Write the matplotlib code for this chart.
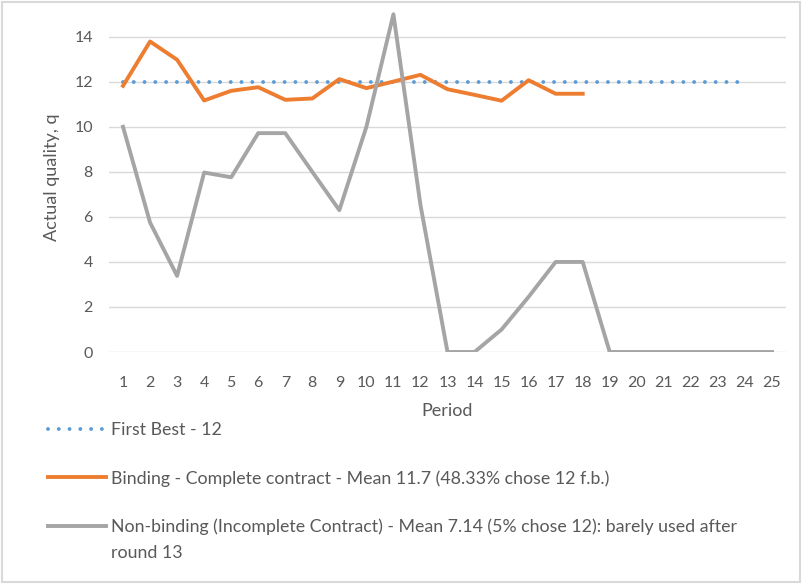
import matplotlib
matplotlib.use("Agg")
import matplotlib.pyplot as plt
import numpy as np

# data
periods = list(range(1, 26))
first_best = [12] * 24
binding = [11.82, 13.79, 12.98, 11.17, 11.6, 11.76, 11.2, 11.26, 12.12, 11.72,
           12.01, 12.31, 11.67, 11.42, 11.16, 12.07, 11.47, 11.47]
non_binding = [10.0, 5.75, 3.38, 7.97, 7.76, 9.72, 9.72, 8.0, 6.3, 10.0,
               15.0, 6.53, 0, 0, 1.0, 2.45, 4.0, 4.0, 0, 0, 0, 0, 0, 0, 0]

lbl_fb = "First Best - 12"
lbl_bind = "Binding - Complete contract - Mean 11.7 (48.33% chose 12 f.b.)"
lbl_non = "Non-binding (Incomplete Contract) - Mean 7.14 (5% chose 12): barely used after"
lbl_non_wrap = "round 13"

plt.rcParams['font.family'] = ['Lato', 'DejaVu Sans']
txt = '#595959'

fig = plt.figure(figsize=(8.02, 5.86), dpi=100)
ax = fig.add_axes([109.5/802, (586-352)/586, 676/802, 349/586])

ax.plot(periods[:len(first_best)], first_best, color='#5B9BD5', lw=2.8,
        linestyle=(0, (0.001, 2.77)), dash_capstyle='round', label=lbl_fb)
ax.plot(periods[:len(binding)], binding, color='#ED7D31', lw=2.8,
        solid_joinstyle='round', label=lbl_bind)
ax.plot(periods, non_binding, color='#A5A5A5', lw=2.8,
        solid_joinstyle='round', label=lbl_non)

ax.set_xlim(0.5, 25.5)
ax.set_ylim(0, 15.5)
ax.set_xticks(periods)
ax.set_yticks(range(0, 15, 2))
ax.tick_params(length=0, labelsize=11.5, colors=txt)
ax.tick_params(axis='x', pad=17)
ax.tick_params(axis='y', pad=12)
ax.grid(axis='y', color='#D9D9D9', lw=1)
ax.set_axisbelow(True)
for s in ax.spines.values():
    s.set_visible(False)

ax.set_ylabel("Actual quality, q", fontsize=13, color=txt, labelpad=10)
ax.set_xlabel("Period", fontsize=13, color=txt, labelpad=10)

leg = fig.legend(loc='upper left', bbox_to_anchor=(32/802, 1 - 406/586),
                 frameon=False, fontsize=12.8, labelcolor=txt,
                 handlelength=3.26, handletextpad=0.28, labelspacing=1.8)

# second line of the wrapped legend label
fig.canvas.draw()
bb = leg.get_texts()[2].get_window_extent()
fig.text(bb.x0 / 802, (bb.y0 - 10) / 586, lbl_non_wrap, fontsize=12.8, color=txt,
         ha='left', va='top')

# chart border
fig.patches.append(plt.Rectangle((0.003, 0.006), 0.994, 0.99, transform=fig.transFigure,
                                 fill=False, edgecolor='#D9D9D9', lw=1.5))

fig.savefig("out.png", dpi=100)
